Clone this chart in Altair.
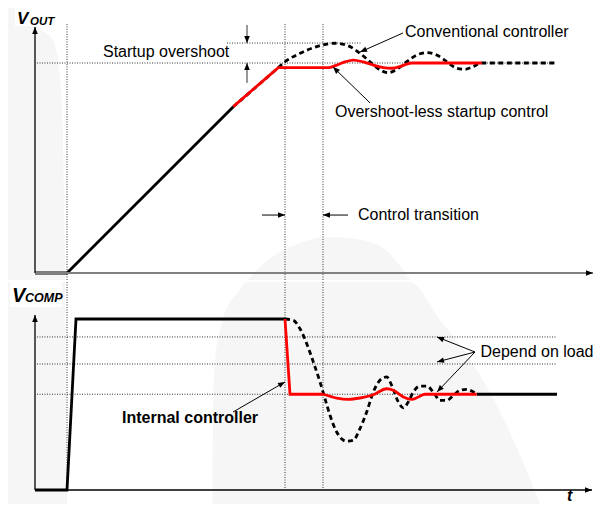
import math
import altair as alt
import pandas as pd

# ---------------- data (t: arbitrary time units, V normalised: 0 = zero, 1 = steady state) -------------
# V_OUT panel
vout_soft_t = [0, 32, 198.3]
vout_soft_v = [0, 0, 0.792]

vout_new_ramp_t = [198.3, 243.3, 295]
vout_new_ramp_v = [0.792, 0.978, 0.978]
vout_new_t = [295, 301.7, 310, 318.3, 328.3, 338.3, 348.3, 356.7, 365, 371.7, 376.7, 446.7]
vout_new_v = [0.978, 0.990, 1.005, 1.014, 1.005, 0.990, 0.978, 0.975, 0.983, 0.995, 1.0, 1.0]

vout_conv_t = [198.3, 243.3, 250, 265, 281.7, 300, 315, 325, 335, 345, 353.3, 363.3, 371.7,
               381.7, 391.7, 401.7, 411.7, 421.7, 430, 438.3, 446.7, 520]
vout_conv_v = [0.792, 0.978, 1.006, 1.046, 1.078, 1.094, 1.078, 1.046, 1.006, 0.967, 0.954, 0.975, 1.006,
               1.038, 1.049, 1.038, 1.006, 0.975, 0.970, 0.983, 1.0, 1.0]

# V_COMP panel
vcomp_soft_t = [0, 32, 41, 250]
vcomp_soft_v = [0, 0, 1.0, 1.0]

vcomp_new_drop_t = [250, 255, 288.3]
vcomp_new_drop_v = [1.0, 0.560, 0.560]
vcomp_new_t = [288.3, 301.7, 313.3, 325, 338.3, 351.7, 358.3, 368.3, 376.7, 383.3, 390, 441.7]
vcomp_new_v = [0.560, 0.538, 0.530, 0.538, 0.557, 0.592, 0.583, 0.544, 0.530, 0.544, 0.560, 0.560]

vcomp_steady_t = [441.7, 522]
vcomp_steady_v = [0.560, 0.560]

vcomp_conv_t = [250, 258.3, 265, 271.7, 278.3, 285, 290, 295, 301.7, 311.7, 318.3, 325, 331.7, 338.3,
                346.7, 351.7, 356.7, 363.3, 368.3, 373.3, 378.3, 385, 391.7, 398.3, 405, 411.7, 418.3,
                425, 431.7, 438.3, 441.7]
vcomp_conv_v = [1.0, 0.992, 0.943, 0.856, 0.749, 0.632, 0.534, 0.437, 0.339, 0.285, 0.291, 0.359, 0.456,
                0.573, 0.651, 0.661, 0.612, 0.515, 0.480, 0.515, 0.573, 0.608, 0.608, 0.573, 0.524, 0.524,
                0.553, 0.583, 0.589, 0.573, 0.560]

# reference (dotted) lines
marker_times = [32, 250, 288]               # start-up, end of soft start, end of control transition
vout_ref_levels = [1.0, 1.095]              # steady state, overshoot peak
vout_ref_from = [2, 192]
vout_ref_to = [520, 327]
vcomp_ref_levels = [0.895, 0.737, 0.560]    # load dependent levels

# annotations
vout_labels = ["Startup overshoot", "Conventional controller", "Overshoot-less startup control",
               "Control transition"]
vout_label_t = [68, 370, 300, 323]
vout_label_v = [1.052, 1.148, 0.767, 0.276]
vcomp_labels = ["Depend on load", "Internal controller"]
vcomp_label_t = [445.5, 87]
vcomp_label_v = [0.807, 0.421]

# arrows: (t0, v0) -> (t1, v1)
vout_arrows_t0 = [0, 0, 212, 212, 368, 335, 227, 313]
vout_arrows_v0 = [0, 0, 1.181, 0.905, 1.143, 0.810, 0.276, 0.276]
vout_arrows_t1 = [558, 0, 212, 212, 325, 298, 250, 288]
vout_arrows_v1 = [0, 1.171, 1.095, 1.0, 1.052, 0.981, 0.276, 0.276]

vcomp_arrows_t0 = [0, 0, 198, 440, 440, 440]
vcomp_arrows_v0 = [0, 0, 0.456, 0.807, 0.807, 0.807]
vcomp_arrows_t1 = [557, 0, 250, 402, 402, 402]
vcomp_arrows_v1 = [0, 1.023, 0.632, 0.895, 0.749, 0.573]

# faint background watermark (outline in t, v of each panel)
wm_top_dome_t = [212.6, 227, 260, 295, 327, 353, 375]
wm_top_dome_v = [-0.0333, 0.038, 0.133, 0.171, 0.157, 0.100, -0.0333]
wm_bot_dome_t = [177.5, 178, 180, 187, 203, 212.6, 375, 405, 435, 465, 488, 505]
wm_bot_dome_v = [-0.0819, 0.398, 0.749, 0.982, 1.158, 1.2164, 1.2164, 0.994, 0.766, 0.456, 0.164, -0.0819]
wm_top_left_t = [-10, 5, 18, 23, 27, 29, 30]
wm_top_left_v = [1.2619, 1.167, 1.110, 1.014, 0.776, 0.348, -0.0333]
wm_bot_left_t = [30, 31, 32]
wm_bot_left_v = [1.2164, 0.515, -0.0819]

# ---------------- layout / styles ----------------
W = 586
H_TOP, H_BOT = 272, 222
X_DOM = [-27, 559]
Y_TOP = [-0.0333, 1.2619]
Y_BOT = [-0.0819, 1.2164]
FONT = "Liberation Sans"
RED = "#ff0000"
WM = "#f6f6f6"
ARROW = "M0,0L-0.4,1L0.4,1Z"


def line_df(ts, vs):
    return pd.DataFrame({"t": ts, "v": vs, "i": range(len(ts))})


def panel(ydom, h, wm, box, lines, hrefs, arrows, arrow_colors, arrow_widths, texts):
    xsc = alt.Scale(domain=X_DOM, nice=False, zero=False)
    ysc = alt.Scale(domain=ydom, nice=False, zero=False)
    px_per_v = h / (ydom[1] - ydom[0])
    px_per_t = W / (X_DOM[1] - X_DOM[0])
    layers = []

    # watermark background
    dome_t, dome_v, left_t, left_v = wm
    ddf = line_df(dome_t, dome_v).assign(b=ydom[0])
    layers.append(alt.Chart(ddf).mark_area(color=WM, interpolate="monotone").encode(
        x=alt.X("t:Q", scale=xsc, axis=None), y=alt.Y("v:Q", scale=ysc, axis=None), y2="b:Q"))
    ldf = line_df(left_t, left_v).assign(a=X_DOM[0])
    layers.append(alt.Chart(ldf).mark_area(color=WM, orient="horizontal", interpolate="monotone").encode(
        y=alt.Y("v:Q", scale=ysc, axis=None), x=alt.X("t:Q", scale=xsc, axis=None), x2="a:Q"))
    bdf = pd.DataFrame({"a": [box[0]], "b": [box[1]], "c": [box[2]], "d": [box[3]]})
    layers.append(alt.Chart(bdf).mark_rect(color="white").encode(
        x=alt.X("a:Q", scale=xsc, axis=None), x2="b:Q", y=alt.Y("c:Q", scale=ysc, axis=None), y2="d:Q"))

    # dotted vertical markers
    vdf = pd.DataFrame({"t": marker_times, "v0": [hrefs["vtop"]] * 3, "v1": [hrefs["vbot"]] * 3})
    layers.append(alt.Chart(vdf).mark_rule(color="#333333", strokeWidth=1, strokeDash=[1, 1.5]).encode(
        x=alt.X("t:Q", scale=xsc, axis=None), y=alt.Y("v0:Q", scale=ysc, axis=None), y2="v1:Q"))
    # dotted horizontal references
    hdf = pd.DataFrame({"a": hrefs["from"], "b": hrefs["to"], "v": hrefs["levels"]})
    layers.append(alt.Chart(hdf).mark_rule(color="#333333", strokeWidth=1, strokeDash=[1, 1.5]).encode(
        x=alt.X("a:Q", scale=xsc, axis=None), x2="b:Q", y=alt.Y("v:Q", scale=ysc, axis=None)))

    # signal lines
    for ts, vs, color, dash, interp in lines:
        kw = dict(color=color, strokeWidth=2.8, interpolate=interp, strokeCap="butt")
        if dash:
            kw["strokeDash"] = dash
        layers.append(alt.Chart(line_df(ts, vs)).mark_line(**kw).encode(
            x=alt.X("t:Q", scale=xsc, axis=None), y=alt.Y("v:Q", scale=ysc, axis=None),
            order="i:Q"))

    # arrows (shaft + head)
    t0, v0, t1, v1 = arrows
    angs = []
    for a, b, c, d in zip(t0, v0, t1, v1):
        dx = (c - a) * px_per_t
        dy = -(d - b) * px_per_v
        angs.append(math.degrees(math.atan2(dx, -dy)) % 360)
    adf = pd.DataFrame({"t0": t0, "v0": v0, "t1": t1, "v1": v1, "ang": angs,
                        "col": arrow_colors, "w": arrow_widths})
    layers.append(alt.Chart(adf).mark_rule().encode(
        x=alt.X("t0:Q", scale=xsc, axis=None), y=alt.Y("v0:Q", scale=ysc, axis=None),
        x2="t1:Q", y2="v1:Q",
        color=alt.Color("col:N", scale=None), strokeWidth=alt.StrokeWidth("w:Q", scale=None)))
    layers.append(alt.Chart(adf).mark_point(shape=ARROW, filled=True, size=196, opacity=1,
                                            strokeWidth=0, color="black").encode(
        x=alt.X("t1:Q", scale=xsc, axis=None), y=alt.Y("v1:Q", scale=ysc, axis=None),
        angle=alt.Angle("ang:Q", scale=None)))

    # texts
    for txt_df, kw in texts:
        opts = dict(font=FONT, align="left", baseline="middle", color="black")
        opts.update(kw)
        layers.append(alt.Chart(txt_df).mark_text(**opts).encode(
            x=alt.X("t:Q", scale=xsc, axis=None), y=alt.Y("v:Q", scale=ysc, axis=None),
            text="label:N"))
    return alt.layer(*layers).properties(width=W, height=h)


# ---- top panel ----
top_lines = [
    (vout_conv_t, vout_conv_v, "black", [5, 3.5], "monotone"),
    (vout_soft_t, vout_soft_v, "black", None, "linear"),
    (vout_new_ramp_t, vout_new_ramp_v, RED, None, "linear"),
    (vout_new_t, vout_new_v, RED, None, "monotone"),
]
top_refs = {"vtop": 1.186, "vbot": Y_TOP[0], "from": vout_ref_from, "to": vout_ref_to,
            "levels": vout_ref_levels}
top_texts = [
    (pd.DataFrame({"t": vout_label_t, "v": vout_label_v, "label": vout_labels}), dict(fontSize=16)),
    (pd.DataFrame({"t": [-18], "v": [1.188], "label": ["V"]}),
     dict(fontSize=17, fontWeight="bold", fontStyle="italic", baseline="alphabetic")),
    (pd.DataFrame({"t": [-5], "v": [1.183], "label": ["OUT"]}),
     dict(fontSize=11.5, fontWeight="bold", fontStyle="italic", baseline="alphabetic")),
]
top = panel(Y_TOP, H_TOP, (wm_top_dome_t, wm_top_dome_v, wm_top_left_t, wm_top_left_v),
            (-20, 22, 1.2619, 1.176),
            top_lines, top_refs,
            (vout_arrows_t0, vout_arrows_v0, vout_arrows_t1, vout_arrows_v1),
            ["#808080", "black", "#333333", "#333333", "black", "black", "black", "black"],
            [2, 1.3, 1, 1, 1, 1, 1, 1], top_texts)

# ---- bottom panel ----
bot_lines = [
    (vcomp_conv_t, vcomp_conv_v, "black", [5, 3.5], "monotone"),
    (vcomp_soft_t, vcomp_soft_v, "black", None, "linear"),
    (vcomp_steady_t, vcomp_steady_v, "black", None, "linear"),
    (vcomp_new_drop_t, vcomp_new_drop_v, RED, None, "linear"),
    (vcomp_new_t, vcomp_new_v, RED, None, "monotone"),
]
bot_refs = {"vtop": Y_BOT[1], "vbot": 0, "from": [2, 2, 2], "to": [522, 522, 522],
            "levels": vcomp_ref_levels}
bot_texts = [
    (pd.DataFrame({"t": [vcomp_label_t[0]], "v": [vcomp_label_v[0]], "label": [vcomp_labels[0]]}),
     dict(fontSize=16)),
    (pd.DataFrame({"t": [vcomp_label_t[1]], "v": [vcomp_label_v[1]], "label": [vcomp_labels[1]]}),
     dict(fontSize=16, fontWeight="bold")),
    (pd.DataFrame({"t": [-23], "v": [1.099], "label": ["V"]}),
     dict(fontSize=20, fontWeight="bold", fontStyle="italic", baseline="alphabetic")),
    (pd.DataFrame({"t": [-10], "v": [1.099], "label": ["COMP"]}),
     dict(fontSize=12.5, fontWeight="bold", fontStyle="italic", baseline="alphabetic")),
    (pd.DataFrame({"t": [532], "v": [-0.0632], "label": ["t"]}),
     dict(fontSize=16, fontWeight="bold", fontStyle="italic", baseline="alphabetic")),
]
bot = panel(Y_BOT, H_BOT, (wm_bot_dome_t, wm_bot_dome_v, wm_bot_left_t, wm_bot_left_v),
            (-25, 27, 1.2164, 1.070),
            bot_lines, bot_refs,
            (vcomp_arrows_t0, vcomp_arrows_v0, vcomp_arrows_t1, vcomp_arrows_v1),
            ["black", "black", "black", "black", "black", "black"],
            [1.5, 1.3, 1, 1, 1, 1], bot_texts)

chart = alt.vconcat(top, bot, spacing=0).properties(padding=0).configure_view(stroke=None)
chart.save("out.html", embed_options={"renderer": "svg", "actions": False})
